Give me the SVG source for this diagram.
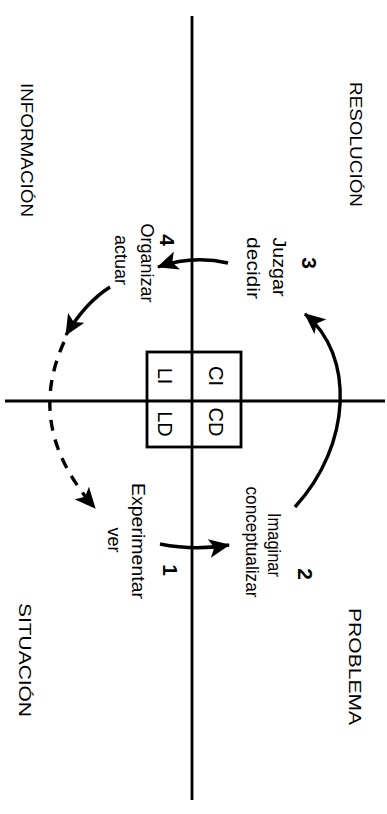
<svg xmlns="http://www.w3.org/2000/svg" width="387" height="814" viewBox="0 0 387 814">
<style>
text{font-family:"Liberation Sans",Arial,Helvetica,sans-serif;fill:#000}
.axis{stroke:#000;stroke-width:2.8;fill:none}
.arr{stroke:#000;stroke-width:3.4;fill:none;marker-end:url(#ah)}
.dash{stroke-dasharray:11 9}
.outer{font-size:16px}
.lbl{font-size:18px}
.num{font-size:21px;font-weight:bold}
.cell{font-size:20px}
</style>
<defs>
<marker id="ah" markerUnits="userSpaceOnUse" markerWidth="21" markerHeight="19" viewBox="0 0 21 19" refX="20" refY="9.5" orient="auto">
<path d="M0,0 L21,9.5 L0,19 L5,9.5 z" fill="#000"/>
</marker>
</defs>
<rect width="387" height="814" fill="#fff"/>
<g id="axes">
<line class="axis" x1="192" y1="16" x2="192" y2="800"/>
<line class="axis" x1="5" y1="401" x2="385" y2="401"/>
</g>
<g id="hemispheres">
<rect class="axis" x="147" y="352" width="94" height="95"/>
<text class="cell" text-anchor="middle" transform="translate(209,376) rotate(90)">CI</text>
<text class="cell" text-anchor="middle" transform="translate(158,376) rotate(90)">LI</text>
<text class="cell" text-anchor="middle" transform="translate(209,422) rotate(90)">CD</text>
<text class="cell" text-anchor="middle" transform="translate(158,424) rotate(90)">LD</text>
</g>
<g id="resolucion"><text class="outer" text-anchor="middle" textLength="125" lengthAdjust="spacingAndGlyphs" transform="translate(350,144.5) rotate(90)">RESOLUCIÓN</text></g>
<g id="informacion"><text class="outer" text-anchor="middle" textLength="134" lengthAdjust="spacingAndGlyphs" transform="translate(21,150) rotate(90)">INFORMACIÓN</text></g>
<g id="situacion"><text class="outer" text-anchor="middle" textLength="114" lengthAdjust="spacingAndGlyphs" transform="translate(19,660) rotate(90)">SITUACIÓN</text></g>
<g id="problema"><text class="outer" text-anchor="middle" textLength="117" lengthAdjust="spacingAndGlyphs" transform="translate(349,666.5) rotate(90)">PROBLEMA</text></g>
<g id="step3">
<text class="num" text-anchor="middle" transform="translate(302,263) rotate(90)">3</text>
<text class="lbl" text-anchor="middle" textLength="59" lengthAdjust="spacingAndGlyphs" transform="translate(273,267) rotate(90)">Juzgar</text>
<text class="lbl" text-anchor="middle" textLength="62" lengthAdjust="spacingAndGlyphs" transform="translate(247,268) rotate(90)">decidir</text>
</g>
<g id="step4">
<text class="num" text-anchor="middle" transform="translate(160,240) rotate(90)">4</text>
<text class="lbl" text-anchor="middle" textLength="79" lengthAdjust="spacingAndGlyphs" transform="translate(141,263) rotate(90)">Organizar</text>
<text class="lbl" text-anchor="middle" textLength="50" lengthAdjust="spacingAndGlyphs" transform="translate(115,260) rotate(90)">actuar</text>
</g>
<g id="step2">
<text class="num" text-anchor="middle" transform="translate(298,574) rotate(90)">2</text>
<text class="lbl" text-anchor="middle" textLength="64" lengthAdjust="spacingAndGlyphs" transform="translate(268,545) rotate(90)">Imaginar</text>
<text class="lbl" text-anchor="middle" textLength="111" lengthAdjust="spacingAndGlyphs" transform="translate(246,542) rotate(90)">conceptualizar</text>
</g>
<g id="step1">
<text class="num" text-anchor="middle" transform="translate(163,570) rotate(90)">1</text>
<text class="lbl" text-anchor="middle" textLength="116" lengthAdjust="spacingAndGlyphs" transform="translate(132,541) rotate(90)">Experimentar</text>
<text class="lbl" text-anchor="middle" textLength="25" lengthAdjust="spacingAndGlyphs" transform="translate(108,540) rotate(90)">ver</text>
</g>
<g id="connectors">
<path class="arr" d="M160,544 Q195,551 229,545"/>
<path class="arr" d="M295,507 C352,445 355,355 305,314"/>
<path class="arr" d="M228,263 Q193,255 158,267"/>
<path class="arr" d="M110,287 Q85,303 66,335"/>
<path class="arr dash" d="M64,342 C40,395 44,450 95,508"/>
</g>
</svg>
